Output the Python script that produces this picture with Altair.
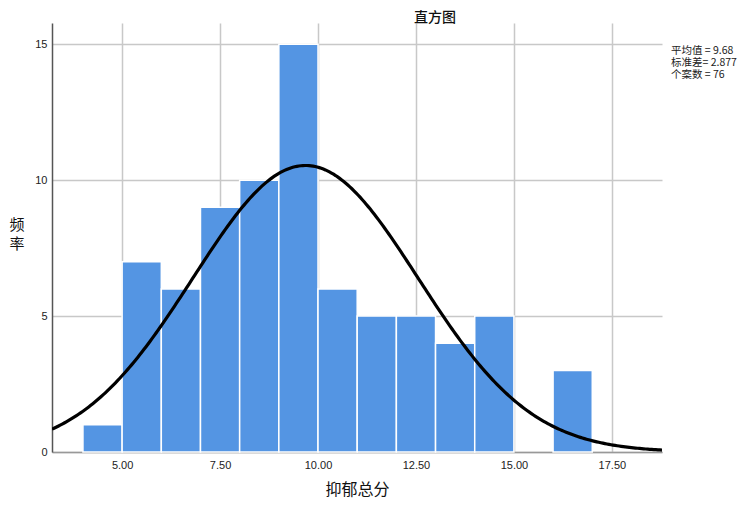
import altair as alt
import numpy as np
import pandas as pd

# histogram data
bin_start = [4, 5, 6, 7, 8, 9, 10, 11, 12, 13, 14, 15, 16]
bin_end = [5, 6, 7, 8, 9, 10, 11, 12, 13, 14, 15, 16, 17]
counts = [1, 7, 6, 9, 10, 15, 6, 5, 5, 4, 5, 0, 3]

# summary statistics shown in the chart
stat_mean = 9.68
stat_sd = 2.877
stat_n = 76
bin_width = 1.0

x_ticks = [5.0, 7.5, 10.0, 12.5, 15.0, 17.5]
y_ticks = [0, 5, 10, 15]
x_domain = [3.21, 18.78]
y_domain = [0, 15.78]

bars_df = pd.DataFrame({"start": bin_start, "end": bin_end, "count": counts})
bars_df = bars_df[bars_df["count"] > 0]

# fitted normal curve from the displayed mean / sd / n
xs = np.linspace(x_domain[0], x_domain[1], 300)
ys = stat_n * bin_width / (stat_sd * np.sqrt(2 * np.pi)) * np.exp(-0.5 * ((xs - stat_mean) / stat_sd) ** 2)
curve_df = pd.DataFrame({"x": xs, "y": ys})

stat_lines = [f"平均值 = {stat_mean:.2f}", f" 标准差= {stat_sd:.3f}", f"个案数 = {stat_n}"]
y_title = ["频", "率"]

CJK = "Noto Sans CJK SC"
LAT = "Liberation Sans"

xscale = alt.Scale(domain=x_domain, nice=False, zero=False)
yscale = alt.Scale(domain=y_domain, nice=False)

xaxis = alt.Axis(
    values=x_ticks, format=".2f", grid=True, gridColor="#c8c8c8", gridWidth=1.5,
    ticks=False, domainColor="#999999", domainWidth=1.5, labelFont=LAT, labelFontSize=11,
    labelColor="#222222", labelPadding=7, title="抑郁总分", titleFont=CJK, titleFontSize=16,
    titleFontWeight="normal", titleColor="#111111", titleY=37, titleBaseline="middle",
)
yaxis = alt.Axis(
    values=y_ticks, grid=True, gridColor="#c8c8c8", gridWidth=1.5, ticks=False,
    domainColor="#555555", domainWidth=1.5, labelFont=LAT, labelFontSize=11,
    labelColor="#222222", labelPadding=5, title=None,
)

bars = alt.Chart(bars_df).mark_bar(color="#5495E3", stroke="white", strokeWidth=1.5).encode(
    x=alt.X("start:Q", scale=xscale, axis=xaxis),
    x2="end:Q",
    y=alt.Y("count:Q", scale=yscale, axis=yaxis),
    y2=alt.datum(0),
)

curve = alt.Chart(curve_df).mark_line(color="black", strokeWidth=3.2, clip=True).encode(
    x=alt.X("x:Q", scale=xscale),
    y=alt.Y("y:Q", scale=yscale),
)

stats = alt.Chart(pd.DataFrame({"t": [0]})).mark_text(
    align="left", baseline="middle", font=CJK, fontSize=10.5, lineHeight=12, color="#222222"
).encode(
    x=alt.value(619), y=alt.value(28), text=alt.value(stat_lines)
)

ylab = alt.Chart(pd.DataFrame({"t": [0]})).mark_text(
    align="center", baseline="middle", font=CJK, fontSize=15, lineHeight=19, color="#111111"
).encode(
    x=alt.value(-35), y=alt.value(202), text=alt.value(y_title)
)

chart = alt.layer(bars, curve, stats, ylab).properties(
    width=610, height=429,
    padding={"left": 44, "top": 15, "right": 78, "bottom": 46},
    autosize=alt.AutoSizeParams(type="none"),
    title=alt.TitleParams(text="直方图", font=CJK, fontSize=14, fontWeight=500,
                          color="#111111", anchor="middle", frame="group", dx=78,
                          offset=-2),
).configure_view(stroke=None)

chart.save("out.html", embed_options={"renderer": "svg", "actions": False})
